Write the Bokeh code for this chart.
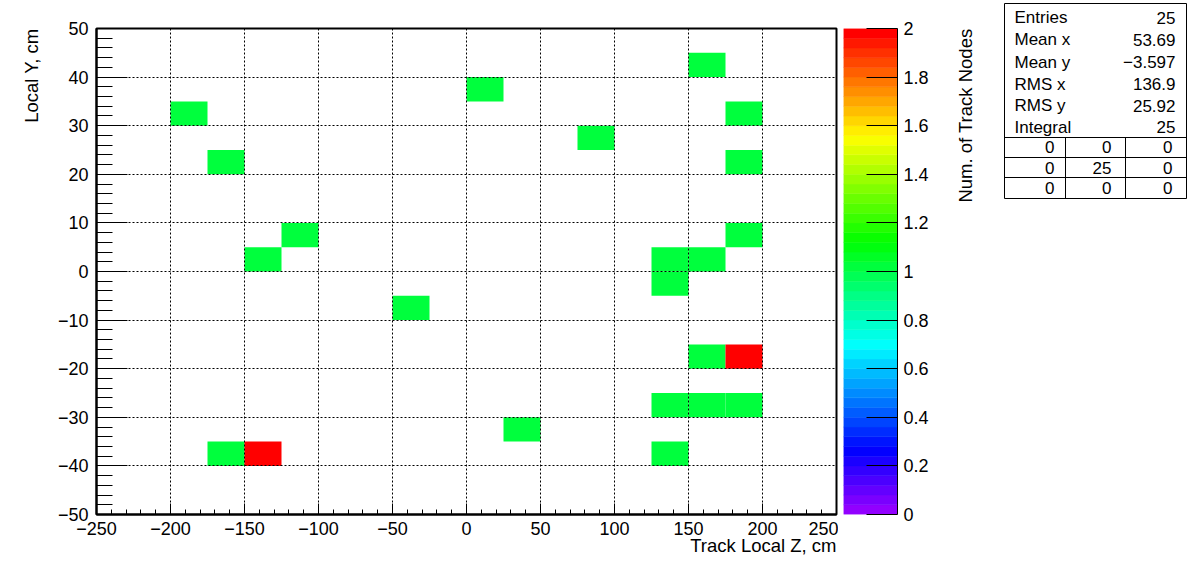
import math
import colorsys
from bokeh.plotting import figure
from bokeh.layouts import row
from bokeh.models import (Range1d, SingleIntervalTicker, FixedTicker, CustomJSTickFormatter,
                          LinearColorMapper, Title, ColumnDataSource)
from bokeh.transform import transform
from bokeh.embed import file_html
from bokeh.resources import INLINE
from bokeh.core.properties import value

# ---------------- data ----------------
# lower bin edges (Track Local Z, Local Y) and bin contents
z_lo = [150, 0, -200, 175, 75, -175, 175, -125, 175, -150, 125, 150, 125, -50,
        150, 175, 125, 150, 175, 25, -175, -150, 125]
y_lo = [40, 35, 30, 30, 25, 20, 20, 5, 5, 0, 0, 0, -5, -10,
        -20, -20, -30, -30, -30, -35, -40, -40, -40]
counts = [1, 1, 1, 1, 1, 1, 1, 1, 1, 1, 1, 1, 1, 1,
          1, 2, 1, 1, 1, 1, 1, 2, 1]
bin_dz = 25
bin_dy = 5

x_ticks_interval = 50
y_ticks_interval = 10
z_ticks = [0, 0.2, 0.4, 0.6, 0.8, 1.0, 1.2, 1.4, 1.6, 1.8, 2.0]

stat_names = ["Entries", "Mean x", "Mean y", "RMS x", "RMS y", "Integral"]
stat_values = ["25", "53.69", "\u22123.597", "136.9", "25.92", "25"]
table_rows = [["0", "0", "0"], ["0", "25", "0"], ["0", "0", "0"]]

FONT = "Liberation Sans"

# ROOT "pretty" palette (violet -> red), 50 colours
palette = []
for i in range(50):
    hue = max(0.0, 280 - (i + 1) * 5.6)
    r, g, b = colorsys.hls_to_rgb(hue / 360.0, 0.5, 1.0)
    palette.append("#%02x%02x%02x" % (round(r * 255), round(g * 255), round(b * 255)))
mapper = LinearColorMapper(palette=palette, low=0, high=2)

fmt = CustomJSTickFormatter(code="""
const v = Math.round(tick*1000)/1000;
return v < 0 ? '\\u2212' + String(-v) : String(v);
""")

# ---------------- main histogram ----------------
p1 = figure(width=838, height=570, x_range=Range1d(-250, 250), y_range=Range1d(-50, 50),
            min_border_left=96, min_border_right=2, min_border_top=28, min_border_bottom=56,
            output_backend="svg", toolbar_location=None, frame_align=False)
p1.background_fill_color = "white"
p1.border_fill_color = "white"
p1.outline_line_color = "black"
p1.outline_line_width = 2

src = ColumnDataSource(dict(
    left=z_lo, right=[z + bin_dz for z in z_lo],
    bottom=y_lo, top=[y + bin_dy for y in y_lo], n=counts))
p1.quad(left="left", right="right", bottom="bottom", top="top", source=src,
        fill_color=transform("n", mapper), line_color=None)

p1.xaxis.ticker = SingleIntervalTicker(interval=x_ticks_interval, num_minor_ticks=5)
p1.yaxis.ticker = SingleIntervalTicker(interval=y_ticks_interval, num_minor_ticks=5)
for ax in (p1.xaxis[0], p1.yaxis[0]):
    ax.formatter = fmt
    ax.major_tick_out = 0
    ax.minor_tick_out = 0
    ax.axis_line_width = 2
    ax.axis_line_color = "black"
    ax.major_tick_line_color = "black"
    ax.minor_tick_line_color = "black"
    ax.major_label_text_font = FONT
    ax.major_label_text_font_size = "18px"
    ax.major_label_text_color = "black"
p1.xaxis.major_tick_in = 11
p1.xaxis.minor_tick_in = 5
p1.xaxis.major_label_standoff = 7
p1.yaxis.major_tick_in = 31
p1.yaxis.minor_tick_in = 16
p1.yaxis.major_label_standoff = 8

for g in (p1.xgrid[0], p1.ygrid[0]):
    g.grid_line_color = "black"
    g.grid_line_dash = "2 2"
    g.grid_line_width = 1
    g.level = "guide"

p1.add_layout(Title(text="Local Y, cm", align="right", text_font=FONT,
                    text_font_size="18.5px", text_font_style="normal",
                    text_color="black", standoff=26), "left")
p1.add_layout(Title(text="Track Local Z, cm", align="right", text_font=FONT,
                    text_font_size="18.5px", text_font_style="normal",
                    text_color="black", standoff=-9), "below")

# ---------------- colour scale ----------------
p2 = figure(width=107, height=570, x_range=Range1d(0, 1), y_range=Range1d(0, 2),
            min_border_left=5, min_border_right=48, min_border_top=28, min_border_bottom=56,
            x_axis_location=None, y_axis_location="right",
            output_backend="svg", toolbar_location=None, frame_align=False)
p2.outline_line_color = None
p2.grid.visible = False
p2.border_fill_color = "white"
edges = [2.0 * i / len(palette) for i in range(len(palette) + 1)]
p2.quad(left=0, right=1, bottom=edges[:-1], top=edges[1:], fill_color=palette,
        line_color=palette, line_width=0.5)
ya = p2.yaxis[0]
ya.ticker = FixedTicker(ticks=z_ticks)
ya.formatter = fmt
ya.major_tick_in = 31
ya.major_tick_out = 0
ya.minor_tick_in = 0
ya.minor_tick_out = 0
ya.axis_line_color = "black"
ya.axis_line_width = 1
ya.major_label_standoff = 6
ya.major_label_text_font = FONT
ya.major_label_text_font_size = "18px"
ya.major_label_text_color = "black"

# colour-scale title (vertical text, top-aligned with the scale)
pt = figure(width=45, height=570, x_range=Range1d(0, 1), y_range=Range1d(0, 2),
            min_border_left=0, min_border_right=5, min_border_top=28, min_border_bottom=56,
            x_axis_location=None, y_axis_location=None,
            output_backend="svg", toolbar_location=None, frame_align=False)
pt.outline_line_color = None
pt.grid.visible = False
pt.border_fill_color = "white"
pt.text(x=[0.5], y=[2], text=["Num. of Track Nodes"], angle=math.pi / 2,
        text_align="right", text_baseline="middle", text_font=value(FONT),
        text_font_size="18.5px", text_color="black")

# ---------------- statistics box ----------------
p3 = figure(width=204, height=200, x_range=Range1d(0, 182), y_range=Range1d(195, 0),
            min_border_left=14, min_border_right=8, min_border_top=3, min_border_bottom=2,
            x_axis_location=None, y_axis_location=None,
            output_backend="svg", toolbar_location=None, frame_align=False)
p3.outline_line_color = "black"
p3.outline_line_width = 1
p3.grid.visible = False
p3.border_fill_color = "white"
p3.background_fill_color = "white"

row_y = [14, 36, 58.5, 80.5, 102, 123.5]
p3.text(x=[10] * len(stat_names), y=row_y, text=stat_names, text_align="left",
        text_baseline="middle", text_font=value(FONT), text_font_size="17px", text_color="black")
p3.text(x=[171] * len(stat_values), y=row_y, text=stat_values, text_align="right",
        text_baseline="middle", text_font=value(FONT), text_font_size="17px", text_color="black")

line_y = [134, 154, 174]
p3.segment(x0=[0] * 3, x1=[182] * 3, y0=line_y, y1=line_y, line_color="black", line_width=1)
p3.segment(x0=[61, 121], x1=[61, 121], y0=[134, 134], y1=[195, 195], line_color="black", line_width=1)
tab_y = [143.5, 164, 184.5]
col_x = [50, 107, 168]
tx, ty, tt = [], [], []
for ri, r in enumerate(table_rows):
    for ci, c in enumerate(r):
        tx.append(col_x[ci]); ty.append(tab_y[ri]); tt.append(c)
p3.text(x=tx, y=ty, text=tt, text_align="right", text_baseline="middle",
        text_font=value(FONT), text_font_size="17px", text_color="black")

layout = row(p1, p2, pt, p3)
open("out.html", "w").write(file_html(layout, INLINE))
